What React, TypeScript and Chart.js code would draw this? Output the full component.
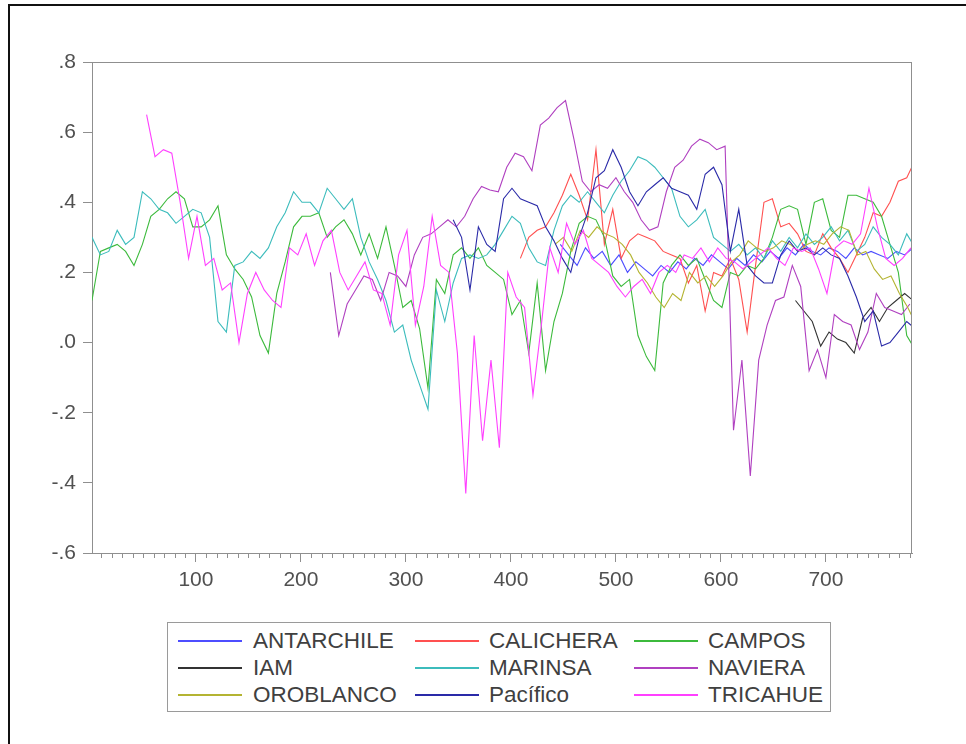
import { useEffect, useRef } from 'react';
import { Chart, registerables } from 'chart.js';

Chart.register(...registerables);

const X_MIN = 1;
const X_MAX = 782;
const X_STEP = 8;
const MINOR_STEP = 10;
const X_TICKS = [100, 200, 300, 400, 500, 600, 700];
const Y_TICKS = [-0.6, -0.4, -0.2, 0, 0.2, 0.4, 0.6, 0.8];

// Each series: first observation index, then values every X_STEP observations
const ANTARCHILE_START = 447;
const ANTARCHILE = [
  0.28, 0.25, 0.22, 0.27, 0.24, 0.26, 0.22, 0.25, 0.2, 0.23,
  0.21, 0.19, 0.22, 0.2, 0.23, 0.21, 0.24, 0.22, 0.25, 0.23,
  0.21, 0.24, 0.22, 0.25, 0.23, 0.26, 0.24, 0.27, 0.25, 0.28,
  0.26, 0.25, 0.27, 0.26, 0.24, 0.27, 0.25, 0.26, 0.25, 0.24,
  0.26, 0.25, 0.27,
];

const CALICHERA_START = 409;
const CALICHERA = [
  0.24, 0.3, 0.32, 0.33, 0.37, 0.42, 0.48, 0.42, 0.35, 0.55,
  0.28, 0.38, 0.24, 0.29, 0.31, 0.3, 0.29, 0.26, 0.25, 0.24,
  0.17, 0.22, 0.09, 0.2, 0.19, 0.24, 0.18, 0.03, 0.22, 0.4,
  0.41, 0.33, 0.34, 0.31, 0.26, 0.25, 0.31, 0.27, 0.24, 0.2,
  0.25, 0.3, 0.37, 0.36, 0.4, 0.46, 0.47, 0.52,
];

const CAMPOS_START = 1;
const CAMPOS = [
  0.12, 0.26, 0.27, 0.28, 0.26, 0.22, 0.28, 0.36, 0.38, 0.41,
  0.43, 0.41, 0.33, 0.33, 0.35, 0.39, 0.25, 0.21, 0.18, 0.13,
  0.02, -0.03, 0.14, 0.23, 0.33, 0.36, 0.36, 0.37, 0.3, 0.33,
  0.35, 0.31, 0.25, 0.31, 0.24, 0.33, 0.22, 0.1, 0.12, 0.04,
  -0.13, 0.18, 0.14, 0.25, 0.27, 0.24, 0.27, 0.22, 0.2, 0.18,
  0.08, 0.12, -0.03, 0.17, -0.08, 0.06, 0.14, 0.26, 0.34, 0.36,
  0.35, 0.3, 0.19, 0.16, 0.18, 0.02, -0.04, -0.08, 0.17, 0.22,
  0.25, 0.22, 0.24, 0.18, 0.12, 0.1, 0.2, 0.19, 0.22, 0.21,
  0.24, 0.3, 0.38, 0.39, 0.38, 0.28, 0.4, 0.41, 0.32, 0.3,
  0.42, 0.42, 0.41, 0.4, 0.36, 0.28, 0.2, 0.02, -0.02,
];

const IAM_START = 671;
const IAM = [
  0.12, 0.09, 0.06, -0.01, 0.03, 0.01, 0.0, -0.03, 0.07, 0.1,
  0.06, 0.1, 0.12, 0.14, 0.12,
];

const MARINSA_START = 1;
const MARINSA = [
  0.3, 0.25, 0.26, 0.32, 0.28, 0.3, 0.43, 0.41, 0.38, 0.37,
  0.34, 0.36, 0.38, 0.37, 0.3, 0.06, 0.03, 0.22, 0.23, 0.26,
  0.24, 0.27, 0.33, 0.37, 0.43, 0.4, 0.4, 0.37, 0.44, 0.41,
  0.38, 0.41, 0.3, 0.23, 0.18, 0.12, 0.03, 0.05, -0.05, -0.12,
  -0.19, 0.15, 0.06, 0.17, 0.24, 0.25, 0.24, 0.25, 0.28, 0.32,
  0.36, 0.34, 0.27, 0.23, 0.22, 0.32, 0.39, 0.42, 0.4, 0.43,
  0.4, 0.37, 0.42, 0.46, 0.49, 0.53, 0.52, 0.5, 0.47, 0.44,
  0.36, 0.33, 0.35, 0.38, 0.3, 0.28, 0.26, 0.28, 0.25, 0.27,
  0.24, 0.29, 0.26, 0.3, 0.27, 0.31, 0.28, 0.3, 0.33, 0.29,
  0.32, 0.26, 0.28, 0.33, 0.3, 0.28, 0.25, 0.31, 0.27,
];

const NAVIERA_START = 228;
const NAVIERA = [
  0.2, 0.02, 0.11, 0.15, 0.19, 0.18, 0.12, 0.2, 0.19, 0.16,
  0.25, 0.3, 0.31, 0.33, 0.35, 0.33, 0.36, 0.41, 0.445, 0.435,
  0.43, 0.5, 0.54, 0.53, 0.49, 0.62, 0.64, 0.67, 0.69, 0.58,
  0.46, 0.43, 0.45, 0.44, 0.47, 0.43, 0.4, 0.35, 0.32, 0.33,
  0.43, 0.5, 0.52, 0.56, 0.58, 0.57, 0.55, 0.56, -0.25, -0.05,
  -0.38, -0.05, 0.05, 0.12, 0.13, 0.22, 0.16, -0.08, -0.02, -0.1,
  0.08, 0.06, 0.05, -0.02, 0.03, 0.14, 0.1, 0.09, 0.08, 0.11,
];

const OROBLANCO_START = 442;
const OROBLANCO = [
  0.28, 0.3, 0.26, 0.32, 0.3, 0.33, 0.31, 0.3, 0.28, 0.25,
  0.2, 0.17, 0.13, 0.1, 0.14, 0.12, 0.2, 0.17, 0.19, 0.16,
  0.19, 0.23, 0.25, 0.29, 0.27, 0.26, 0.27, 0.29, 0.28, 0.26,
  0.28, 0.29, 0.28, 0.31, 0.33, 0.32, 0.25, 0.26, 0.21, 0.18,
  0.19, 0.14, 0.1, 0.05,
];

const PACIFICO_START = 345;
const PACIFICO = [
  0.35, 0.3, 0.15, 0.33, 0.28, 0.26, 0.41, 0.44, 0.41, 0.4,
  0.39, 0.33, 0.29, 0.24, 0.2, 0.3, 0.37, 0.47, 0.49, 0.55,
  0.5, 0.43, 0.39, 0.43, 0.45, 0.47, 0.44, 0.43, 0.42, 0.38,
  0.48, 0.5, 0.45, 0.26, 0.38, 0.22, 0.19, 0.17, 0.17, 0.25,
  0.29, 0.26, 0.27, 0.25, 0.27, 0.25, 0.24, 0.19, 0.13, 0.06,
  0.09, -0.01, 0.0, 0.03, 0.06, 0.04,
];

const TRICAHUE_START = 53;
const TRICAHUE = [
  0.65, 0.53, 0.55, 0.54, 0.4, 0.24, 0.36, 0.22, 0.24, 0.15,
  0.17, 0.0, 0.14, 0.2, 0.15, 0.12, 0.1, 0.27, 0.25, 0.31,
  0.22, 0.29, 0.32, 0.2, 0.15, 0.19, 0.23, 0.15, 0.14, 0.05,
  0.25, 0.32, 0.05, 0.16, 0.36, 0.22, 0.2, -0.03, -0.43, 0.02,
  -0.28, -0.05, -0.3, 0.2, 0.13, 0.1, -0.15, 0.05, 0.27, 0.2,
  0.34, 0.28, 0.32, 0.24, 0.22, 0.2, 0.16, 0.13, 0.16, 0.18,
  0.14, 0.2, 0.22, 0.2, 0.25, 0.24, 0.27, 0.23, 0.27, 0.24,
  0.23, 0.21, 0.23, 0.25, 0.27, 0.24, 0.22, 0.27, 0.26, 0.27,
  0.21, 0.14, 0.27, 0.29, 0.28, 0.31, 0.44, 0.33, 0.24, 0.22,
  0.24, 0.27,
];

const SERIES = [
  { name: 'ANTARCHILE', color: '#4d4dff', start: ANTARCHILE_START, values: ANTARCHILE },
  { name: 'CALICHERA', color: '#ff5050', start: CALICHERA_START, values: CALICHERA },
  { name: 'CAMPOS', color: '#3cba3c', start: CAMPOS_START, values: CAMPOS },
  { name: 'IAM', color: '#333333', start: IAM_START, values: IAM },
  { name: 'MARINSA', color: '#3cbcbc', start: MARINSA_START, values: MARINSA },
  { name: 'NAVIERA', color: '#b040c0', start: NAVIERA_START, values: NAVIERA },
  { name: 'OROBLANCO', color: '#b4b432', start: OROBLANCO_START, values: OROBLANCO },
  { name: 'Pacífico', color: '#2a2aa8', start: PACIFICO_START, values: PACIFICO },
  { name: 'TRICAHUE', color: '#ff40ff', start: TRICAHUE_START, values: TRICAHUE },
];

const FONT = '"Liberation Sans", Arial, Helvetica, sans-serif';

function fmtY(v: number): string {
  const r = Math.round(v * 10) / 10;
  const s = Math.abs(r).toFixed(1).replace(/^0/, '');
  return (r < 0 ? '-' : '') + s;
}

const axisDecor = {
  id: 'axisDecor',
  afterDraw(chart: any) {
    const { ctx, chartArea: a, scales } = chart;
    const xs = scales.x;
    ctx.save();
    ctx.strokeStyle = '#8f8f8f';
    ctx.lineWidth = 1;
    ctx.beginPath();
    ctx.moveTo(a.left, a.top + 0.5);
    ctx.lineTo(a.right, a.top + 0.5);
    ctx.moveTo(a.right - 0.5, a.top);
    ctx.lineTo(a.right - 0.5, a.bottom);
    for (let v = MINOR_STEP; v <= X_MAX; v += MINOR_STEP) {
      if (X_TICKS.includes(v)) continue;
      const px = Math.round(xs.getPixelForValue(v)) + 0.5;
      ctx.moveTo(px, a.bottom);
      ctx.lineTo(px, a.bottom + 5);
    }
    ctx.stroke();
    ctx.restore();
  },
};

function ChartCanvas() {
  const ref = useRef<HTMLCanvasElement | null>(null);
  useEffect(() => {
    if (!ref.current) return;
    const datasets = SERIES.map((s, idx) => ({
      label: s.name,
      data: s.values.map((v, i) => ({ x: s.start + i * X_STEP, y: v })),
      borderColor: s.color,
      backgroundColor: s.color,
      borderWidth: 1.1,
      pointRadius: 0,
      tension: 0,
      fill: false,
      clip: 0,
      order: SERIES.length - 1 - idx,
    }));
    const chart = new Chart(ref.current, {
      type: 'line',
      data: { datasets },
      plugins: [axisDecor],
      options: {
        animation: false,
        responsive: false,
        devicePixelRatio: 1,
        parsing: true,
        layout: { padding: { top: 62, right: 54, left: 0, bottom: 0 } },
        plugins: { legend: { display: false }, tooltip: { enabled: false } },
        scales: {
          x: {
            type: 'linear',
            min: X_MIN,
            max: X_MAX,
            afterFit: (s: any) => { s.height = 47; },
            afterBuildTicks: (s: any) => { s.ticks = X_TICKS.map((v) => ({ value: v })); },
            ticks: {
              color: '#505050',
              font: { family: FONT, size: 21 },
              padding: 6,
              maxRotation: 0,
              autoSkip: false,
              callback: (v: any) => String(v),
            },
            grid: { display: true, drawOnChartArea: false, drawTicks: true, tickLength: 9, color: '#8f8f8f', tickColor: '#8f8f8f' },
            border: { display: true, color: '#8f8f8f', width: 1 },
          },
          y: {
            type: 'linear',
            min: -0.6,
            max: 0.8,
            afterFit: (s: any) => { s.width = 92; },
            afterBuildTicks: (s: any) => { s.ticks = Y_TICKS.map((v) => ({ value: v })); },
            ticks: {
              color: '#505050',
              font: { family: FONT, size: 21 },
              padding: 7,
              autoSkip: false,
              callback: (v: any) => fmtY(Number(v)),
            },
            grid: { display: true, drawOnChartArea: false, drawTicks: true, tickLength: 9, color: '#8f8f8f', tickColor: '#8f8f8f' },
            border: { display: true, color: '#8f8f8f', width: 1 },
          },
        },
      },
    } as any);
    return () => chart.destroy();
  }, []);
  return (
    <canvas
      ref={ref}
      width={966}
      height={600}
      style={{ position: 'absolute', left: 0, top: 0, width: 966, height: 600 }}
    />
  );
}

const LEGEND_ROWS = [
  ['ANTARCHILE', 'CALICHERA', 'CAMPOS'],
  ['IAM', 'MARINSA', 'NAVIERA'],
  ['OROBLANCO', 'Pacífico', 'TRICAHUE'],
];
const COL_LINE_X = [178, 415, 634];
const COL_TEXT_X = [253, 489, 708];

export default function App() {
  const colorOf = (n: string) => SERIES.find((s) => s.name === n)?.color ?? '#000';
  return (
    <div
      style={{
        position: 'fixed',
        left: 0,
        top: 0,
        width: 966,
        height: 744,
        background: '#fff',
        overflow: 'hidden',
        fontFamily: FONT,
      }}
    >
      <div
        style={{
          position: 'absolute',
          left: 8,
          top: 4,
          width: 2000,
          height: 2000,
          borderLeft: '2px solid #111',
          borderTop: '2px solid #111',
        }}
      />
      <ChartCanvas />
      <div
        style={{
          position: 'absolute',
          left: 167,
          top: 622,
          width: 664,
          height: 90,
          border: '1px solid #9a9a9a',
          boxSizing: 'border-box',
        }}
      />
      {LEGEND_ROWS.map((row, r) =>
        row.map((name, c) => (
          <div key={name}>
            <div
              style={{
                position: 'absolute',
                left: COL_LINE_X[c],
                top: 640 + r * 27,
                width: 64,
                height: 2,
                background: colorOf(name),
              }}
            />
            <div
              style={{
                position: 'absolute',
                left: COL_TEXT_X[c],
                top: 641 + r * 27 - 13,
                height: 26,
                lineHeight: '26px',
                fontSize: 22.5,
                color: '#404040',
                whiteSpace: 'nowrap',
              }}
            >
              {name}
            </div>
          </div>
        ))
      )}
    </div>
  );
}
